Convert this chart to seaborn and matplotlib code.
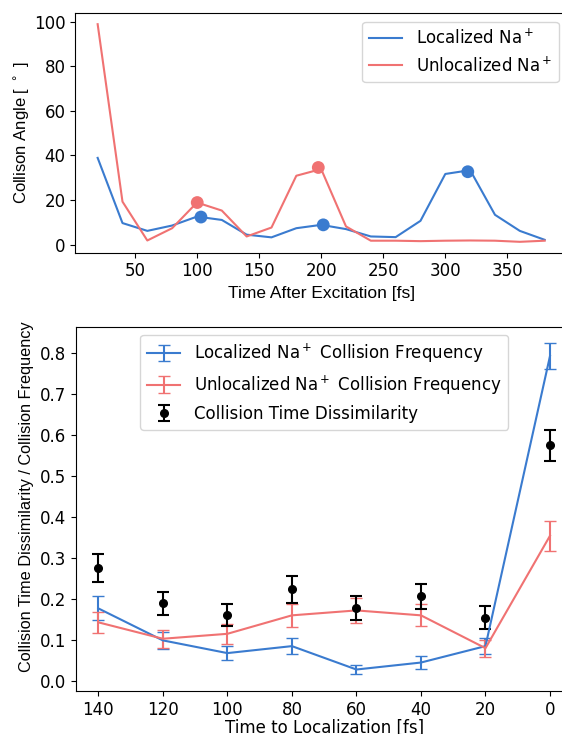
import numpy as np
import pandas as pd
import matplotlib
matplotlib.use("Agg")
import matplotlib.pyplot as plt
import seaborn as sns

# -------------- Data ------------------

# top panel: collision angle vs time after excitation
t_exc = [20, 40, 60, 80, 100, 120, 140, 160, 180, 200,
         220, 240, 260, 280, 300, 320, 340, 360, 380]
angle_loc = [38.9, 9.7, 6.2, 8.6, 12.6, 11.1, 4.5, 3.3, 7.4, 8.9,
             7.0, 3.7, 3.4, 10.7, 31.7, 33.4, 13.4, 6.2, 2.2]
angle_unloc = [98.8, 19.3, 1.9, 7.4, 18.9, 15.3, 3.7, 7.7, 30.9, 33.9,
               8.2, 1.8, 1.8, 1.6, 1.8, 1.9, 1.8, 1.3, 1.8]

# peak markers
peak_loc_t = [103.2, 201.7, 318.1]
peak_loc_a = [12.4, 8.9, 32.7]
peak_unloc_t = [100.2, 197.7]
peak_unloc_a = [18.9, 34.6]

# bottom panel: time to localization
t_loc = [140, 120, 100, 80, 60, 40, 20, 0]
freq_loc = [0.178, 0.100, 0.069, 0.086, 0.029, 0.046, 0.086, 0.793]
freq_loc_err = [0.029, 0.021, 0.017, 0.019, 0.012, 0.015, 0.020, 0.031]
freq_unloc = [0.144, 0.104, 0.116, 0.161, 0.173, 0.161, 0.081, 0.355]
freq_unloc_err = [0.026, 0.022, 0.025, 0.028, 0.030, 0.027, 0.021, 0.036]
dissim = [0.276, 0.190, 0.161, 0.224, 0.178, 0.207, 0.155, 0.575]
dissim_err = [0.034, 0.029, 0.027, 0.032, 0.029, 0.031, 0.028, 0.037]

blue = "#3a7bcf"
red = "#f07272"

plt.rcParams["font.size"] = 12
label_font = {"family": "Liberation Sans"}

fig = plt.figure(figsize=(5.62, 7.34), dpi=100)
W, H = 562.0, 734.0

# -------------- Top panel ------------------

ax1 = fig.add_axes([75.3 / W, 1 - 252.7 / H, (567 - 75.3) / W, (252.7 - 13.3) / H])

top = pd.DataFrame({"t": t_exc, "loc": angle_loc, "unloc": angle_unloc})
sns.lineplot(data=top, x="t", y="loc", ax=ax1, color=blue, lw=1.5,
             label="Localized Na$^+$")
sns.lineplot(data=top, x="t", y="unloc", ax=ax1, color=red, lw=1.5,
             label="Unlocalized Na$^+$")
sns.scatterplot(x=peak_loc_t, y=peak_loc_a, ax=ax1, color=blue, s=85,
                edgecolor="none", legend=False, zorder=3)
sns.scatterplot(x=peak_unloc_t, y=peak_unloc_a, ax=ax1, color=red, s=85,
                edgecolor="none", legend=False, zorder=3)

ax1.set_xticks([50, 100, 150, 200, 250, 300, 350])
ax1.set_yticks([0, 20, 40, 60, 80, 100])
ax1.set_xlabel("Time After Excitation [fs]", fontsize=12.5, **label_font)
ax1.set_ylabel(r"Collison Angle [ $^\circ$ ]", fontsize=12, labelpad=1.5,
               **label_font)
ax1.legend(loc="upper right")
ax1.spines["right"].set_visible(False)

# -------------- Bottom panel ------------------

ax2 = fig.add_axes([75.7 / W, 1 - 691 / H, (572.6 - 75.7) / W, (691 - 326.7) / H])

ax2.errorbar(t_loc, freq_loc, yerr=freq_loc_err, color=blue, lw=1.5,
             capsize=4, label="Localized Na$^+$ Collision Frequency")
ax2.errorbar(t_loc, freq_unloc, yerr=freq_unloc_err, color=red, lw=1.5,
             capsize=4, label="Unlocalized Na$^+$ Collision Frequency")
ax2.errorbar(t_loc, dissim, yerr=dissim_err, fmt="o", color="black", ms=5.5,
             elinewidth=1.5, capsize=4, capthick=1.5,
             label="Collision Time Dissimilarity")

ax2.invert_xaxis()
ax2.set_xticks(t_loc)
ax2.set_yticks(np.arange(0, 0.81, 0.1))
ax2.set_xlabel("Time to Localization [fs]", labelpad=0)
ax2.set_ylabel("Collision Time Dissimilarity / Collision Frequency",
               fontsize=11.7, **label_font)
ax2.yaxis.label.set_y(0.534)
ax2.legend(loc="upper center")
ax2.spines["right"].set_visible(False)

fig.savefig("out.png", dpi=100)
